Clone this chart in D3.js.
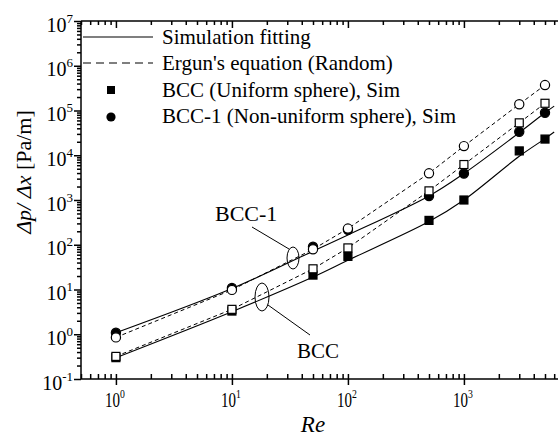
<!DOCTYPE html>
<html>
<head>
<meta charset="utf-8">
<script src="https://cdn.jsdelivr.net/npm/d3@7/dist/d3.min.js"></script>
<style>
  body { margin: 0; background: #fff; }
  svg { font-family: "Liberation Serif", "Times New Roman", serif; }
  .axis path, .axis line { stroke: #000; stroke-width: 1.5; }
</style>
</head>
<body>
<svg id="chart"></svg>
<script>
// Reynolds numbers of the simulated cases
const reynolds = [1, 10, 50, 100, 500, 1000, 3000, 5000];
// pressure gradient [Pa/m]
const bccSim    = [0.30, 3.3, 21, 55, 350, 1000, 12500, 23000];
const bccErgun  = [0.32, 3.6, 29, 85, 1600, 6200, 53000, 145000];
const bcc1Sim   = [1.08, 10.8, 90, 215, 1230, 3900, 33500, 89000];
const bcc1Ergun = [0.85, 9.8, 79, 230, 3950, 16000, 138000, 370000];
// fitted curves
const fitRe   = [1, 10, 50, 100, 500, 1000, 3000, 5000, 6000];
const bccFit  = [0.30, 3.2, 19, 45, 330, 1000, 9500, 23500, 33000];
const bcc1Fit = [1.08, 10.5, 72, 165, 1230, 3900, 32000, 89000, 125000];

const xDecades = [0, 1, 2, 3];
const yDecades = [-1, 0, 1, 2, 3, 4, 5, 6, 7];
const legendLabels = [
  'Simulation fitting',
  "Ergun's equation (Random)",
  'BCC (Uniform sphere), Sim',
  'BCC-1 (Non-uniform sphere), Sim'
];

const config = {
  width: 558, height: 438,
  left: 81, top: 21, bottom: 379,
  decadePx: 116
};

const svg = d3.select('#chart')
  .attr('width', config.width)
  .attr('height', config.height);

const x = d3.scaleLog()
  .domain([0.5, 10000])
  .range([config.left, config.left + config.decadePx * Math.log10(10000 / 0.5)]);
const y = d3.scaleLog()
  .domain([0.1, 1e7])
  .range([config.bottom, config.top]);

// minor / major tick values
const xMajor = xDecades.map(e => Math.pow(10, e));
const xMinor = [];
for (let e = -1; e <= 4; e++) {
  for (let k = 2; k <= 9; k++) {
    const v = k * Math.pow(10, e);
    if (v >= 0.5 && v <= 10000) xMinor.push(v);
  }
}
const yMajor = yDecades.map(e => Math.pow(10, e));
const yMinor = [];
for (let e = -1; e < 7; e++) {
  for (let k = 2; k <= 9; k++) yMinor.push(k * Math.pow(10, e));
}

// bottom axis
const xAxisG = svg.append('g').attr('class', 'axis')
  .attr('transform', `translate(0,${config.bottom})`);
xAxisG.append('g')
  .call(d3.axisBottom(x).tickValues(xMinor).tickSize(-5).tickFormat(''))
  .call(g => g.select('.domain').remove());
xAxisG.append('g')
  .call(d3.axisBottom(x).tickValues(xMajor).tickSize(6).tickFormat(''))
  .call(g => g.select('.domain').remove());
xAxisG.append('g')
  .call(d3.axisBottom(x).tickValues(xMajor).tickSize(-5).tickFormat(''))
  .call(g => g.select('.domain').remove());
xAxisG.append('line')
  .attr('x1', config.left).attr('x2', config.width)
  .attr('stroke', '#000').attr('stroke-width', 2);

// top border with inward ticks
const topG = svg.append('g').attr('class', 'axis')
  .attr('transform', `translate(0,${config.top})`);
topG.append('g')
  .call(d3.axisTop(x).tickValues(xMinor).tickSize(-4).tickFormat(''))
  .call(g => g.select('.domain').remove());
topG.append('g')
  .call(d3.axisTop(x).tickValues(xMajor).tickSize(-7).tickFormat(''))
  .call(g => g.select('.domain').remove());
topG.append('line')
  .attr('x1', config.left).attr('x2', config.width)
  .attr('stroke', '#000').attr('stroke-width', 2);

// left axis
const yAxisG = svg.append('g').attr('class', 'axis')
  .attr('transform', `translate(${config.left},0)`);
yAxisG.append('g')
  .call(d3.axisLeft(y).tickValues(yMinor).tickSize(4).tickFormat(''))
  .call(g => g.select('.domain').remove());
yAxisG.append('g')
  .call(d3.axisLeft(y).tickValues(yMajor).tickSize(7).tickFormat(''))
  .call(g => g.select('.domain').remove());
yAxisG.append('line')
  .attr('y1', config.top).attr('y2', config.bottom)
  .attr('stroke', '#000').attr('stroke-width', 2);

// tick labels 10^n
const xLabels = svg.append('g')
  .selectAll('text')
  .data(xDecades)
  .join('text')
  .attr('transform', d => `translate(${x(Math.pow(10, d)) - 1},407) scale(0.75,1)`)
  .attr('text-anchor', 'middle')
  .attr('font-size', 20);
xLabels.append('tspan').text('10');
xLabels.append('tspan').attr('dy', -9).attr('font-size', 13).text(d => d);

const yLabels = svg.append('g')
  .selectAll('text')
  .data(yDecades)
  .join('text')
  .attr('x', 73)
  .attr('y', d => y(Math.pow(10, d)) + 10.5)
  .attr('text-anchor', 'end')
  .attr('font-size', 20);
yLabels.append('tspan').text('10');
yLabels.append('tspan').attr('dy', -9).attr('font-size', 13).text(d => d);

// axis titles
svg.append('text')
  .attr('x', 313).attr('y', 432)
  .attr('text-anchor', 'middle')
  .attr('font-size', 23)
  .attr('font-style', 'italic')
  .text('Re');

const yTitle = svg.append('text')
  .attr('transform', 'translate(31,172) rotate(-90)')
  .attr('text-anchor', 'middle')
  .attr('font-size', 22);
yTitle.append('tspan').attr('font-style', 'italic').text('Δp/ Δx');
yTitle.append('tspan').text(' [Pa/m]');

// lines
const plot = svg.append('g');
const fitLine = d3.line()
  .x(d => x(d[0]))
  .y(d => y(d[1]))
  .curve(d3.curveCatmullRom.alpha(0.5));
const straight = d3.line()
  .x(d => x(d[0]))
  .y(d => y(d[1]));

[bccFit, bcc1Fit].forEach(vals => {
  plot.append('path')
    .datum(d3.zip(fitRe, vals))
    .attr('d', fitLine)
    .attr('fill', 'none')
    .attr('stroke', '#000')
    .attr('stroke-width', 1.1);
});
[bccErgun, bcc1Ergun].forEach(vals => {
  plot.append('path')
    .datum(d3.zip(reynolds, vals))
    .attr('d', straight)
    .attr('fill', 'none')
    .attr('stroke', '#000')
    .attr('stroke-width', 1)
    .attr('stroke-dasharray', '4,3');
});

// markers
const sq = 8, rad = 4.6;
function squares(vals, fill) {
  plot.append('g').selectAll('rect')
    .data(d3.zip(reynolds, vals))
    .join('rect')
    .attr('x', d => x(d[0]) - sq / 2)
    .attr('y', d => y(d[1]) - sq / 2)
    .attr('width', sq).attr('height', sq)
    .attr('fill', fill)
    .attr('stroke', '#000').attr('stroke-width', 1.2);
}
function circles(vals, fill) {
  plot.append('g').selectAll('circle')
    .data(d3.zip(reynolds, vals))
    .join('circle')
    .attr('cx', d => x(d[0]))
    .attr('cy', d => y(d[1]))
    .attr('r', rad)
    .attr('fill', fill)
    .attr('stroke', '#000').attr('stroke-width', 1.2);
}
squares(bccSim, '#000');
circles(bcc1Sim, '#000');
circles(bcc1Ergun, '#fff');
squares(bccErgun, '#fff');

// annotations
const notes = svg.append('g').attr('fill', 'none').attr('stroke', '#000').attr('stroke-width', 1);
notes.append('ellipse').attr('cx', 293).attr('cy', 258).attr('rx', 6).attr('ry', 11);
notes.append('ellipse').attr('cx', 262).attr('cy', 297).attr('rx', 7).attr('ry', 14);
notes.append('line').attr('x1', 252).attr('y1', 227).attr('x2', 289).attr('y2', 249);
notes.append('line').attr('x1', 268).attr('y1', 305).attr('x2', 310).attr('y2', 335);
svg.append('text').attr('x', 215).attr('y', 221).attr('font-size', 22).text('BCC-1');
svg.append('text').attr('x', 297).attr('y', 358).attr('font-size', 21).text('BCC');

// legend
const legend = svg.append('g');
legend.append('line').attr('x1', 83).attr('x2', 153).attr('y1', 37).attr('y2', 37)
  .attr('stroke', '#000').attr('stroke-width', 1.1);
legend.append('line').attr('x1', 83).attr('x2', 153).attr('y1', 63).attr('y2', 63)
  .attr('stroke', '#000').attr('stroke-width', 1.1).attr('stroke-dasharray', '8,5');
legend.append('rect').attr('x', 111 - sq / 2).attr('y', 90 - sq / 2)
  .attr('width', sq).attr('height', sq).attr('fill', '#000');
legend.append('circle').attr('cx', 111).attr('cy', 117).attr('r', rad).attr('fill', '#000');
legend.selectAll('text.lab')
  .data(legendLabels)
  .join('text')
  .attr('class', 'lab')
  .attr('x', 162)
  .attr('y', (d, i) => [44, 70, 97, 123][i])
  .attr('font-size', 21)
  .text(d => d);
</script>
</body>
</html>
